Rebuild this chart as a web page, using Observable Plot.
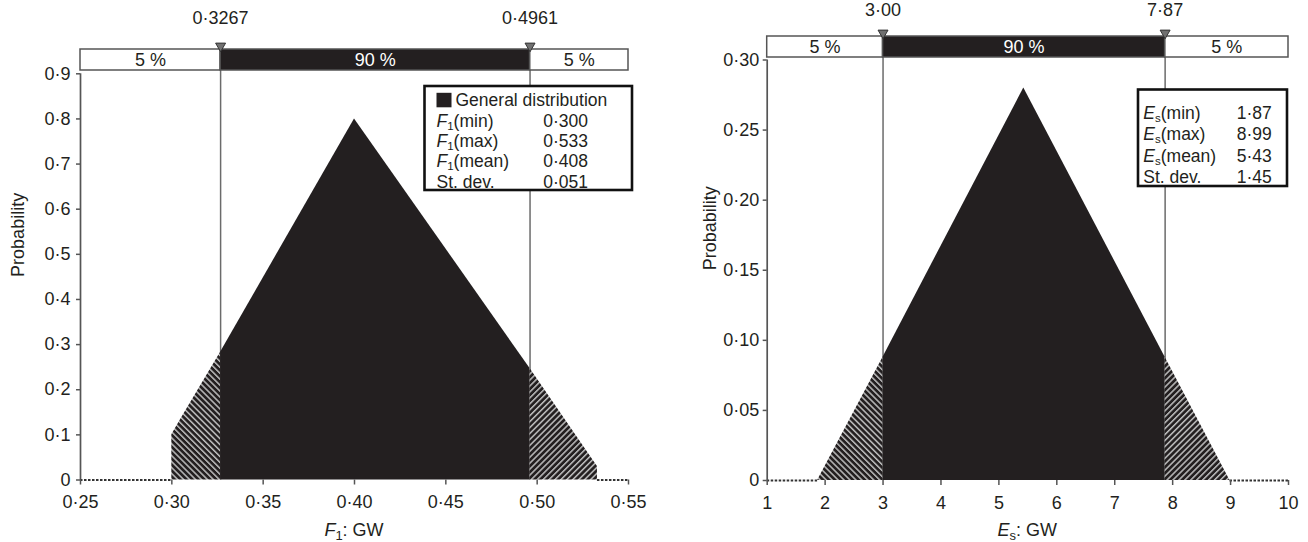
<!DOCTYPE html>
<html>
<head>
<meta charset="utf-8">
<script src="https://cdn.jsdelivr.net/npm/d3@7"></script>
<script src="https://cdn.jsdelivr.net/npm/@observablehq/plot@0.6"></script>
<style>
html, body { margin: 0; padding: 0; background: #fff; }
#wrap { display: flex; width: 1308px; height: 542px; overflow: hidden; }
#wrap > svg { flex: none; }
</style>
</head>
<body>
<svg width="0" height="0" style="position:absolute">
  <defs>
    <pattern id="hatchL" patternUnits="userSpaceOnUse" width="4.2" height="4.2" patternTransform="rotate(-45)">
      <rect width="4.2" height="4.2" fill="#231f20"></rect>
      <rect x="0" y="0" width="1.5" height="4.2" fill="#bdbdbd"></rect>
    </pattern>
    <pattern id="hatchR" patternUnits="userSpaceOnUse" width="4.2" height="4.2" patternTransform="rotate(45)">
      <rect width="4.2" height="4.2" fill="#231f20"></rect>
      <rect x="0" y="0" width="1.5" height="4.2" fill="#bdbdbd"></rect>
    </pattern>
  </defs>
</svg>
<div id="wrap"></div>
<script>
// ---------------- data ----------------
// Left panel: F1 (general distribution)
const f1X = [0.25, 0.30, 0.30, 0.3057, 0.3267, 0.40, 0.4961, 0.533, 0.533, 0.55];
const f1P = [0, 0, 0.10, 0.14, 0.283, 0.80, 0.247, 0.03, 0, 0];
const f1Bounds = [0.3267, 0.4961];
const f1Domain = [0.25, 0.55];
const f1YDomain = [0, 0.9];
const f1XTicks = [0.25, 0.30, 0.35, 0.40, 0.45, 0.50, 0.55];
const f1YTicks = [0, 0.1, 0.2, 0.3, 0.4, 0.5, 0.6, 0.7, 0.8, 0.9];
const f1Stats = [0.300, 0.533, 0.408];
const f1StDev = 0.051;

// Right panel: Es (triangular distribution)
const esX = [1, 1.87, 3.00, 5.43, 7.87, 8.99, 10];
const esP = [0, 0, 0.088, 0.28, 0.088, 0, 0];
const esBounds = [3.00, 7.87];
const esDomain = [1, 10];
const esYDomain = [0, 0.30];
const esXTicks = [1, 2, 3, 4, 5, 6, 7, 8, 9, 10];
const esYTicks = [0, 0.05, 0.10, 0.15, 0.20, 0.25, 0.30];
const esStats = [1.87, 8.99, 5.43];
const esStDev = 1.45;

// shared labels
const bandLabels = ["5 %", "90 %", "5 %"];
const statNames = ["(min)", "(max)", "(mean)"];
const stDevLabel = "St. dev.";
const legendTitle = "General distribution";
const yTitle = "Probability";

// ---------------- helpers ----------------
const BLACK = "#231f20";
const FONT = "'Liberation Sans', Arial, Helvetica, sans-serif";
const FS = 18;
const LFS = 17.5;
const W = 654, H = 542;
const dotFmt = p => d => d === 0 ? "0" : d3.format(`.${p}f`)(d).replace(".", "·");

function symText(sel, sym, sub, rest, subSize, shift) {
  sel.append("tspan").attr("font-style", "italic").text(sym);
  sel.append("tspan").attr("font-size", subSize).attr("dy", shift).text(sub);
  sel.append("tspan").attr("dy", -shift).text(rest);
}

function panel(cfg) {
  const m = cfg.margin;
  const plotH = H - m.top - m.bottom;
  const yPx = px => cfg.yDomain[1] * (H - m.bottom - px) / plotH; // pixel row -> data value
  const pts = cfg.xs.map((x, i) => ({x, p: cfg.ps[i]}));
  const [b0, b1] = cfg.bounds;
  const leftPts = pts.filter(d => d.x <= b0);
  const midPts = pts.filter(d => d.x >= b0 && d.x <= b1);
  const rightPts = pts.filter(d => d.x >= b1);
  const edges = [cfg.xDomain[0], b0, b1, cfg.xDomain[1]];
  const bands = bandLabels.map((label, i) => ({x1: edges[i], x2: edges[i + 1], label, dark: i === 1}));
  const n = cfg.xs.length;
  const L = cfg.legend;

  const legendMark = () => {
    const g = d3.create("svg:g").attr("font-size", LFS).attr("fill", BLACK).attr("text-anchor", "start");
    g.append("rect").attr("x", L.x).attr("y", L.y).attr("width", L.w).attr("height", L.h)
      .attr("fill", "white").attr("stroke", "#111").attr("stroke-width", 2.6);
    let r = 0;
    if (L.title) {
      g.append("rect").attr("x", L.labelX).attr("y", L.rows[0] - 13.5).attr("width", 15).attr("height", 14.5).attr("fill", BLACK);
      g.append("text").attr("x", L.labelX + 19).attr("y", L.rows[0]).text(legendTitle);
      r = 1;
    }
    cfg.stats.forEach((v, i) => {
      const t = g.append("text").attr("x", L.labelX).attr("y", L.rows[r + i]);
      symText(t, cfg.sym, cfg.sub, statNames[i], 11.5, 3);
      g.append("text").attr("x", L.valX).attr("y", L.rows[r + i]).text(cfg.statFmt(v));
    });
    const last = L.rows[r + cfg.stats.length];
    g.append("text").attr("x", L.labelX).attr("y", last).text(stDevLabel);
    g.append("text").attr("x", L.valX).attr("y", last).text(cfg.statFmt(cfg.stDev));
    return g.node();
  };

  const xTitleMark = (index, scales, values, dims) => {
    const cx = (dims.marginLeft + dims.width - dims.marginRight) / 2;
    const t = d3.create("svg:text").attr("x", cx).attr("y", cfg.xTitleY)
      .attr("text-anchor", "middle").attr("font-size", FS).attr("fill", BLACK);
    symText(t, cfg.sym, cfg.sub, ": GW", 13, 4);
    return t.node();
  };

  return Plot.plot({
    width: W, height: H,
    marginTop: m.top, marginBottom: m.bottom, marginLeft: m.left, marginRight: m.right,
    x: {domain: cfg.xDomain},
    y: {domain: cfg.yDomain},
    style: {fontFamily: FONT, fontSize: FS + "px", color: BLACK, background: "white", overflow: "visible"},
    marks: [
      Plot.ruleX(cfg.bounds, {y1: 0, y2: yPx(cfg.bar.bottom), stroke: "#6b6b6b", strokeWidth: 1.5}),
      Plot.areaY(leftPts, {x: "x", y: "p", fill: "url(#hatchL)", curve: "linear"}),
      Plot.areaY(midPts, {x: "x", y: "p", fill: BLACK, curve: "linear"}),
      Plot.areaY(rightPts, {x: "x", y: "p", fill: "url(#hatchR)", curve: "linear"}),
      Plot.ruleY([0], {x1: cfg.xs[0], x2: cfg.xs[1], stroke: "#333", strokeWidth: 2, strokeDasharray: "2.5,1.5"}),
      Plot.ruleY([0], {x1: cfg.xs[n - 2], x2: cfg.xs[n - 1], stroke: "#333", strokeWidth: 2, strokeDasharray: "2.5,1.5"}),
      Plot.ruleX([cfg.xDomain[0]], {y1: 0, y2: cfg.yDomain[1], stroke: "#555", strokeWidth: 1.7}),
      Plot.axisY(cfg.yTicks, {tickFormat: cfg.yFmt, tickSize: 4, tickPadding: cfg.yPad, stroke: "#555", strokeWidth: 1.5, label: null, fontSize: FS}),
      Plot.axisX(cfg.xTicks, {tickFormat: cfg.xFmt, tickSize: 5, tickPadding: cfg.xPad, stroke: "#555", strokeWidth: 1.5, label: null, fontSize: FS}),
      Plot.text([yTitle], {frameAnchor: "left", dx: cfg.yTitleDx, rotate: -90, fontSize: FS, fill: BLACK}),
      // top band bar
      Plot.rect(bands.filter(d => !d.dark), {x1: "x1", x2: "x2", y1: yPx(cfg.bar.bottom), y2: yPx(cfg.bar.top), fill: "white", stroke: "#555", strokeWidth: 1.5}),
      Plot.rect(bands.filter(d => d.dark), {x1: "x1", x2: "x2", y1: yPx(cfg.bar.bottom), y2: yPx(cfg.bar.top), fill: BLACK, stroke: "#555", strokeWidth: 1.5}),
      Plot.text(bands.filter(d => !d.dark), {x: d => (d.x1 + d.x2) / 2, y: yPx((cfg.bar.top + cfg.bar.bottom) / 2), text: "label", fill: BLACK, fontSize: FS}),
      Plot.text(bands.filter(d => d.dark), {x: d => (d.x1 + d.x2) / 2, y: yPx((cfg.bar.top + cfg.bar.bottom) / 2), text: "label", fill: "white", fontSize: FS}),
      Plot.dot(cfg.bounds, {x: d => d, y: yPx(cfg.bar.top - 3.5), symbol: "triangle", rotate: 180, r: 3.7, fill: "#707070", stroke: "#333", strokeWidth: 1}),
      Plot.text(cfg.bounds, {x: d => d, y: yPx(cfg.boundLabelY), text: cfg.boundFmt, fill: BLACK, fontSize: FS}),
      legendMark,
      xTitleMark
    ]
  });
}

const left = panel({
  xs: f1X, ps: f1P, bounds: f1Bounds, xDomain: f1Domain, yDomain: f1YDomain,
  xTicks: f1XTicks, yTicks: f1YTicks,
  xFmt: dotFmt(2), yFmt: dotFmt(1), boundFmt: dotFmt(4), statFmt: dotFmt(3),
  stats: f1Stats, stDev: f1StDev, sym: "F", sub: "1",
  margin: {top: 73.3, bottom: 62.5, left: 80, right: 26},
  bar: {top: 49, bottom: 70}, boundLabelY: 18,
  yPad: 6, xPad: 10, yTitleDx: -62, xTitleY: 536,
  legend: {x: 424.5, y: 86, w: 207.5, h: 104, labelX: 436.5, valX: 543.3, title: true,
           rows: [106.3, 126.6, 146.9, 167.2, 187.5]}
});

const right = panel({
  xs: esX, ps: esP, bounds: esBounds, xDomain: esDomain, yDomain: esYDomain,
  xTicks: esXTicks, yTicks: esYTicks,
  xFmt: d => String(d), yFmt: dotFmt(2), boundFmt: dotFmt(2), statFmt: dotFmt(2),
  stats: esStats, stDev: esStDev, sym: "E", sub: "s",
  margin: {top: 59.5, bottom: 62, left: 112.7, right: 20},
  bar: {top: 36, bottom: 57}, boundLabelY: 10,
  yPad: 4, xPad: 11, yTitleDx: -57, xTitleY: 536,
  legend: {x: 484, y: 89.5, w: 149, h: 96.5, labelX: 489.3, valX: 582.7, title: false,
           rows: [119, 140.3, 161.6, 182.9]}
});

document.getElementById("wrap").append(left, right);
</script>
</body>
</html>
